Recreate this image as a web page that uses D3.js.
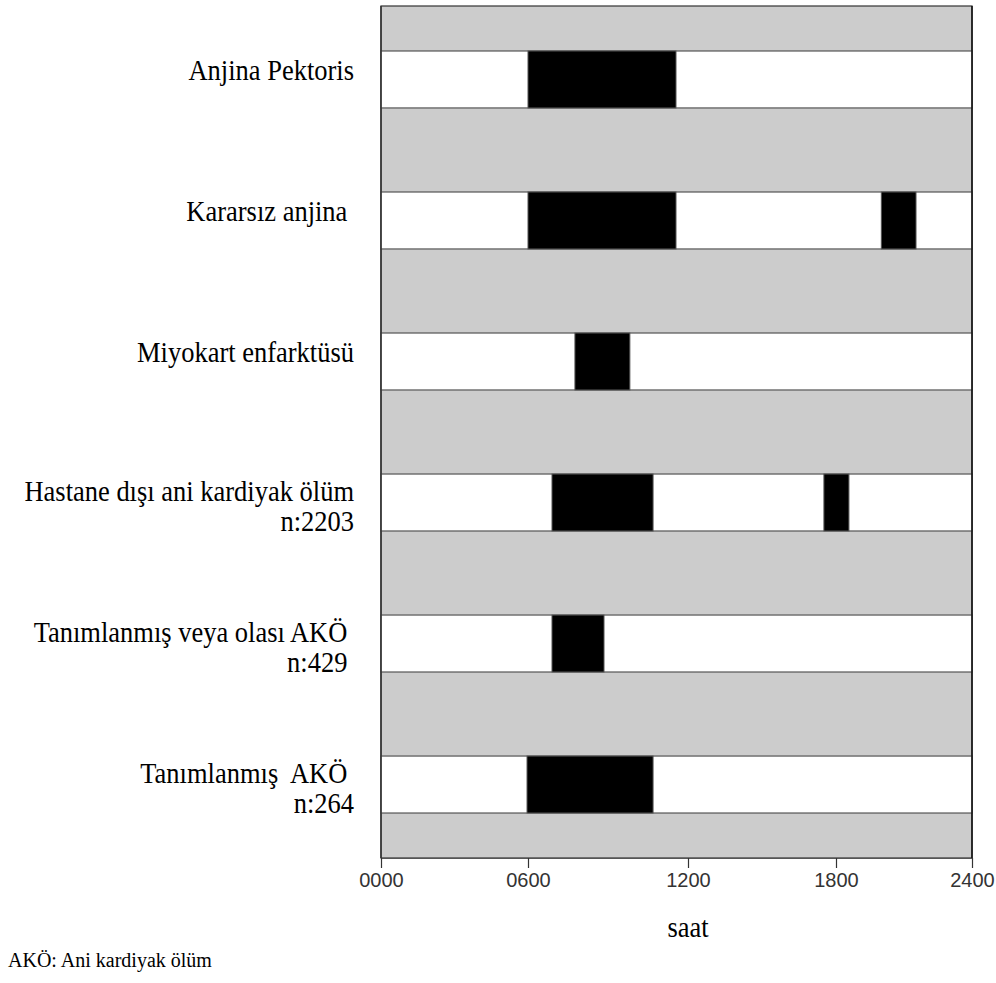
<!DOCTYPE html>
<html>
<head>
<meta charset="utf-8">
<script src="https://cdn.jsdelivr.net/npm/d3@7"></script>
<style>
  html, body { margin: 0; padding: 0; background: #fff; }
  svg { display: block; }
  .lbl { font-family: "Liberation Serif", "Times New Roman", serif; fill: #000; white-space: pre; }
  .tick text { font-family: "Liberation Sans", Arial, sans-serif; fill: #333; }
</style>
</head>
<body>
<svg id="chart" width="996" height="983"></svg>
<script>
// ---- data ----
const categories = [
  "Anjina Pektoris",
  "Kararsız anjina ",
  "Miyokart enfarktüsü",
  "Hastane dışı ani kardiyak ölüm",
  "Tanımlanmış veya olası AKÖ ",
  "Tanımlanmış  AKÖ "
];
const subLabels = ["", "", "", "n:2203", "n:429 ", "n:264"];
// peak periods (hours, 0000-2400) per category
const peakStarts = [[600], [600, 2000], [776], [690, 1751], [690], [596]];
const peakEnds   = [[1155], [1155, 2153], [982], [1069, 1857], [885], [1069]];
const tickValues = [0, 600, 1200, 1800, 2400];
const tickLabels = ["0000", "0600", "1200", "1800", "2400"];
const xTitle = "saat";
const footnote = "AKÖ: Ani kardiyak ölüm";

// ---- layout ----
const svg = d3.select("#chart");
const plotTop = 6, plotBottom = 858;
const x = d3.scaleLinear().domain(tickValues).range([381, 528, 688, 836, 972]);
const y = d3.scaleBand().domain(categories).range([plotTop, plotBottom])
  .paddingInner(0.596).paddingOuter(0.319);

const x0 = x(0), x1 = x(2400);

// gray background
svg.append("rect")
  .attr("x", x0).attr("y", plotTop)
  .attr("width", x1 - x0).attr("height", plotBottom - plotTop)
  .attr("fill", "#cccccc").attr("stroke", "#333").attr("stroke-width", 1.2);

// white rows
svg.selectAll("rect.row").data(categories).join("rect")
  .attr("class", "row")
  .attr("x", x0).attr("y", d => y(d))
  .attr("width", x1 - x0).attr("height", y.bandwidth())
  .attr("fill", "#ffffff").attr("stroke", "#555").attr("stroke-width", 1.2);

// black peaks
const peaks = [];
categories.forEach((c, i) => {
  peakStarts[i].forEach((s, j) => peaks.push({ c, s, e: peakEnds[i][j] }));
});
svg.selectAll("rect.peak").data(peaks).join("rect")
  .attr("class", "peak")
  .attr("x", d => x(d.s)).attr("y", d => y(d.c))
  .attr("width", d => x(d.e) - x(d.s)).attr("height", y.bandwidth())
  .attr("fill", "#000").attr("stroke", "#555").attr("stroke-width", 1);

// side borders
svg.append("line").attr("x1", x0).attr("x2", x0).attr("y1", plotTop).attr("y2", plotBottom)
  .attr("stroke", "#333").attr("stroke-width", 1.5);
svg.append("line").attr("x1", x1).attr("x2", x1).attr("y1", plotTop).attr("y2", plotBottom)
  .attr("stroke", "#111").attr("stroke-width", 1.5);

// x axis
const axis = d3.axisBottom(x).tickValues(tickValues)
  .tickFormat((d, i) => tickLabels[i]).tickSize(10).tickSizeOuter(0).tickPadding(5);
const gAx = svg.append("g").attr("transform", `translate(0,${plotBottom})`).call(axis);
gAx.select(".domain").attr("stroke", "#555").attr("stroke-width", 1.2);
gAx.selectAll(".tick line").attr("stroke", "#333").attr("stroke-width", 1.2);
gAx.selectAll(".tick text").attr("font-size", 20);

// category labels
const labelX = 354;
const fs = 26.5, sy = 1.1;
categories.forEach((c, i) => {
  const cy = y(c) + y.bandwidth() / 2;
  const two = subLabels[i] !== "";
  const b1 = two ? cy - 2 : cy + 1;
  svg.append("text").attr("class", "lbl")
    .attr("transform", `translate(${labelX},${b1}) scale(1,${sy})`)
    .attr("text-anchor", "end").attr("font-size", fs).text(c);
  if (two) {
    svg.append("text").attr("class", "lbl")
      .attr("transform", `translate(${labelX},${b1 + 30}) scale(1,${sy})`)
      .attr("text-anchor", "end").attr("font-size", fs).text(subLabels[i]);
  }
});

// x title
svg.append("text").attr("class", "lbl")
  .attr("transform", `translate(${x(1200)},937) scale(1,${sy})`)
  .attr("text-anchor", "middle").attr("font-size", fs).text(xTitle);

// footnote
svg.append("text").attr("class", "lbl")
  .attr("transform", `translate(8,967)`)
  .attr("font-size", 20).text(footnote);
</script>
</body>
</html>
